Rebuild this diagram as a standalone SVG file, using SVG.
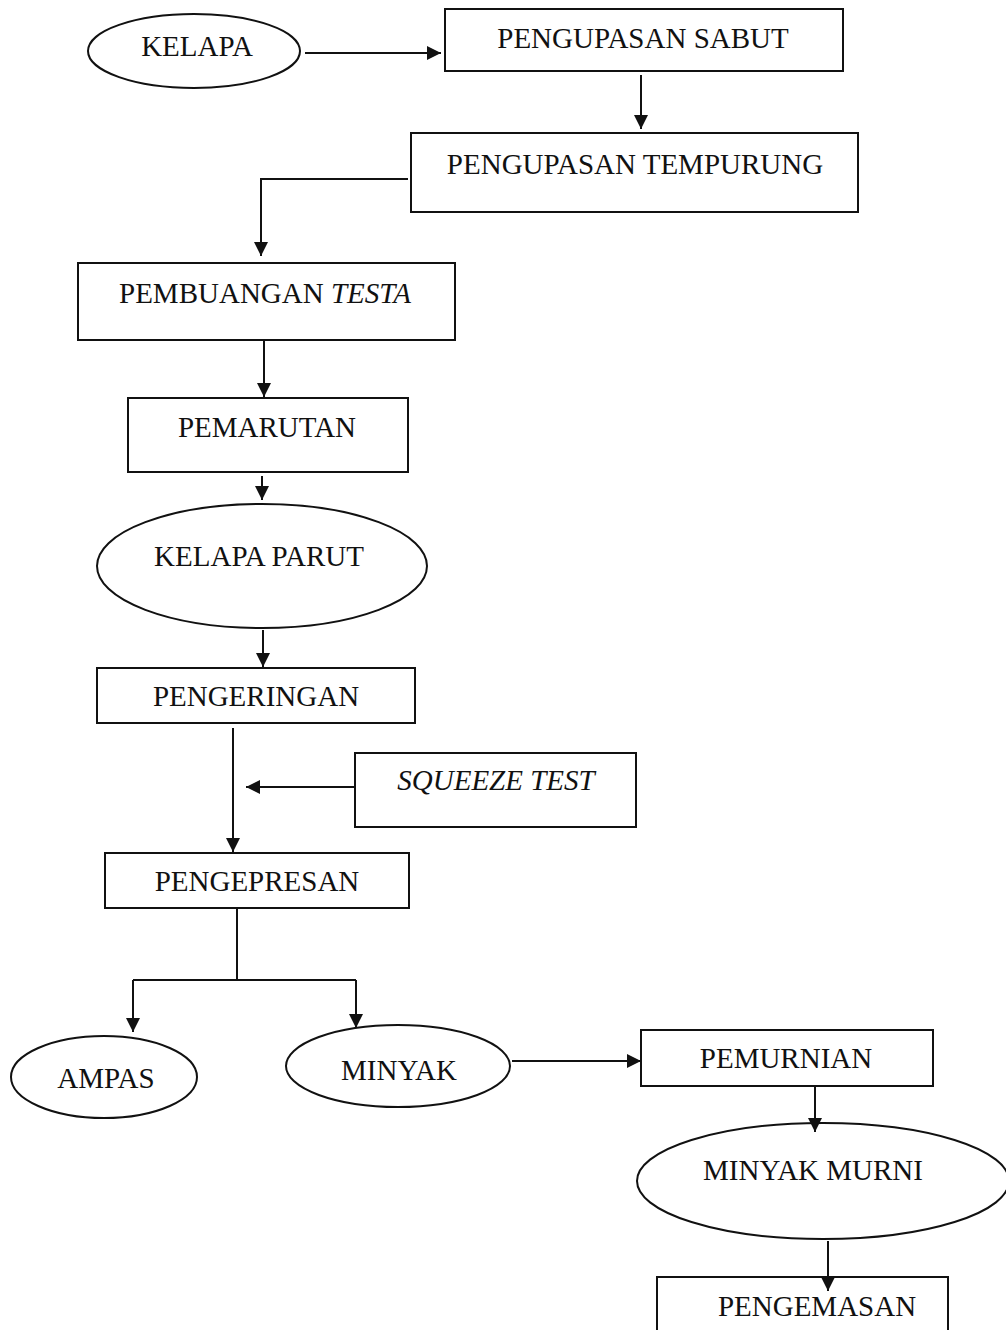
<svg xmlns="http://www.w3.org/2000/svg" width="1006" height="1330" viewBox="0 0 1006 1330">
<defs>
<marker id="ah" viewBox="0 0 10 10" refX="10" refY="5" markerWidth="16" markerHeight="14" markerUnits="userSpaceOnUse" orient="auto">
<path d="M0,0 L10,5 L0,10 z" fill="#111"/>
</marker>
<style>
.n{fill:#fff;stroke:#111;stroke-width:2}
.t{font-family:"Liberation Serif","Times New Roman",serif;font-size:29px;fill:#111;text-anchor:middle}
.i{font-style:italic}
.c{fill:none;stroke:#111;stroke-width:2}
</style>
</defs>
<rect width="1006" height="1330" fill="#fff"/>
<g id="kelapa"><ellipse class="n" cx="194" cy="51" rx="106" ry="37"/><text class="t" x="197" y="56">KELAPA</text></g>
<g id="pengupasan-sabut"><rect class="n" x="445" y="9" width="398" height="62"/><text class="t" x="643" y="48">PENGUPASAN SABUT</text></g>
<g id="pengupasan-tempurung"><rect class="n" x="411" y="133" width="447" height="79"/><text class="t" x="635" y="174">PENGUPASAN TEMPURUNG</text></g>
<g id="pembuangan-testa"><rect class="n" x="78" y="263" width="377" height="77"/><text class="t" x="265" y="303">PEMBUANGAN <tspan class="i">TESTA</tspan></text></g>
<g id="pemarutan"><rect class="n" x="128" y="398" width="280" height="74"/><text class="t" x="267" y="437">PEMARUTAN</text></g>
<g id="kelapa-parut"><ellipse class="n" cx="262" cy="566" rx="165" ry="62"/><text class="t" x="259" y="566">KELAPA PARUT</text></g>
<g id="pengeringan"><rect class="n" x="97" y="668" width="318" height="55"/><text class="t" x="256" y="706">PENGERINGAN</text></g>
<g id="squeeze-test"><rect class="n" x="355" y="753" width="281" height="74"/><text class="t i" x="496" y="790">SQUEEZE TEST</text></g>
<g id="pengepresan"><rect class="n" x="105" y="853" width="304" height="55"/><text class="t" x="257" y="891">PENGEPRESAN</text></g>
<g id="ampas"><ellipse class="n" cx="104" cy="1077" rx="93" ry="41"/><text class="t" x="106" y="1088">AMPAS</text></g>
<g id="minyak"><ellipse class="n" cx="398" cy="1066" rx="112" ry="41"/><text class="t" x="399" y="1080">MINYAK</text></g>
<g id="pemurnian"><rect class="n" x="641" y="1030" width="292" height="56"/><text class="t" x="786" y="1068">PEMURNIAN</text></g>
<g id="minyak-murni"><ellipse class="n" cx="823" cy="1181" rx="186" ry="58"/><text class="t" x="813" y="1180">MINYAK MURNI</text></g>
<g id="pengemasan"><rect class="n" x="657" y="1277" width="291" height="70"/><text class="t" x="817" y="1316">PENGEMASAN</text></g>
<g id="connectors">
<path class="c" d="M305,53 H441" marker-end="url(#ah)"/>
<path class="c" d="M641,75 V129" marker-end="url(#ah)"/>
<path class="c" d="M408,179 H261 V256" marker-end="url(#ah)"/>
<path class="c" d="M264,341 V397" marker-end="url(#ah)"/>
<path class="c" d="M262,476 V500" marker-end="url(#ah)"/>
<path class="c" d="M263,630 V667" marker-end="url(#ah)"/>
<path class="c" d="M233,728 V852" marker-end="url(#ah)"/>
<path class="c" d="M354,787 H246" marker-end="url(#ah)"/>
<path class="c" d="M237,908 V980"/>
<path class="c" d="M133,980 H356"/>
<path class="c" d="M133,980 V1032" marker-end="url(#ah)"/>
<path class="c" d="M356,980 V1028" marker-end="url(#ah)"/>
<path class="c" d="M512,1061 H641" marker-end="url(#ah)"/>
<path class="c" d="M815,1086 V1132" marker-end="url(#ah)"/>
<path class="c" d="M828,1241 V1291" marker-end="url(#ah)"/>
</g>
</svg>
